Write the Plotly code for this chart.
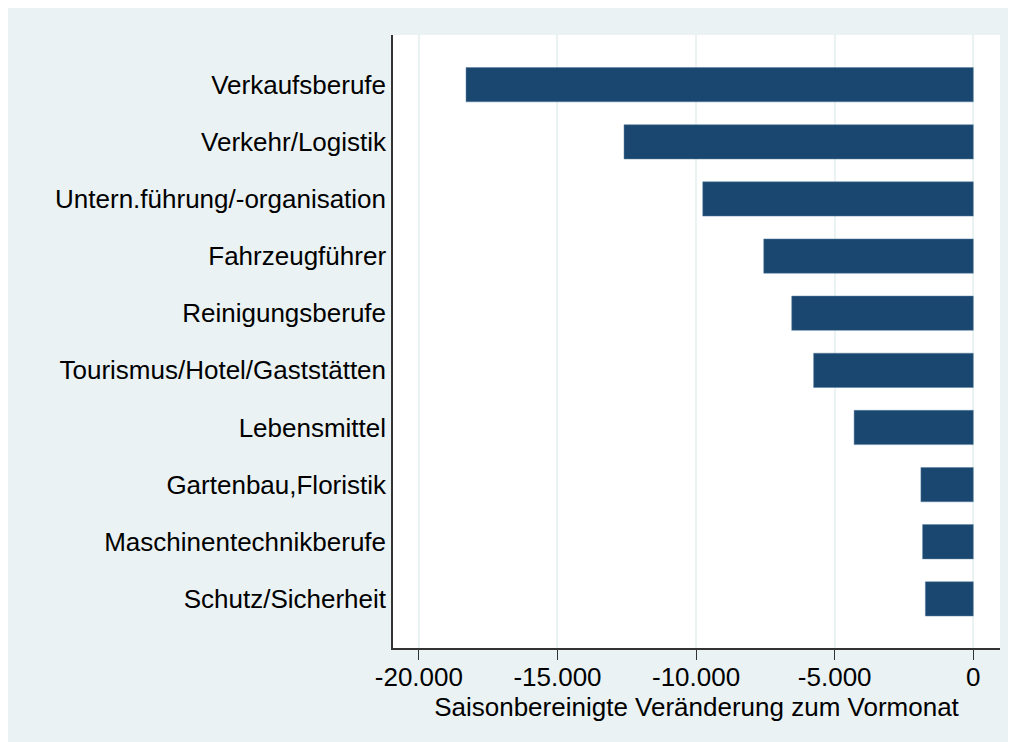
import plotly.graph_objects as go

categories = [
    "Verkaufsberufe",
    "Verkehr/Logistik",
    "Untern.führung/-organisation",
    "Fahrzeugführer",
    "Reinigungsberufe",
    "Tourismus/Hotel/Gaststätten",
    "Lebensmittel",
    "Gartenbau,Floristik",
    "Maschinentechnikberufe",
    "Schutz/Sicherheit",
]
values = [-18300, -12600, -9760, -7560, -6550, -5760, -4300, -1890, -1830, -1730]

tick_vals = [-20000, -15000, -10000, -5000, 0]
tick_text = ["-20.000", "-15.000", "-10.000", "-5.000", "0"]

x_title = "Saisonbereinigte Veränderung zum Vormonat"

BG = "#EAF2F3"
BAR = "#1A476F"
FONT = "Liberation Sans, Arial, sans-serif"

W, H = 1016, 742
L, R, T, B = 385, 24, 27, 102

fig = go.Figure(
    go.Bar(
        x=values,
        y=categories,
        orientation="h",
        width=0.6,
        marker=dict(color=BAR, line=dict(width=0.5, color="#5a7fa0")),
    )
)

fig.update_layout(
    width=W,
    height=H,
    margin=dict(l=L, r=R, t=T, b=B, pad=0),
    paper_bgcolor=BG,
    plot_bgcolor="white",
    showlegend=False,
    font=dict(family=FONT, size=26, color="black"),
)

fig.update_xaxes(
    range=[-20934, 963],
    tickvals=tick_vals,
    ticktext=tick_text,
    showgrid=True,
    gridcolor=BG,
    gridwidth=2,
    zeroline=False,
    showline=True,
    linecolor="#333333",
    linewidth=1.5,
    ticks="outside",
    ticklen=10,
    tickwidth=1.2,
    tickcolor="#333333",
    ticklabelstandoff=-5,
    tickfont=dict(size=26, color="black"),
    title=dict(text=x_title, font=dict(size=26, color="black"), standoff=0),
)

fig.update_yaxes(
    range=[9.86, -0.87],
    type="category",
    showgrid=False,
    zeroline=False,
    showline=True,
    linecolor="#333333",
    linewidth=1.5,
    ticks="",
    ticklabelstandoff=0,
    tickfont=dict(size=26, color="black"),
)

fig.write_html("out.html")
